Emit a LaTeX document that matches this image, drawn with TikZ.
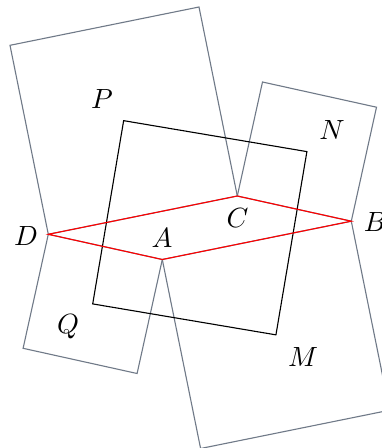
\documentclass[tikz,border=0pt]{standalone}
\usetikzlibrary{calc}
\definecolor{sqgray}{RGB}{112,122,136}
\begin{document}
\begin{tikzpicture}[x=0.36pt,y=-0.36pt,
  sq/.style={draw=sqgray,line width=0.4pt},
  inner/.style={draw=black,line width=0.4pt},
  rh/.style={draw=red,line width=0.4pt},
  lab/.style={inner sep=0pt}]
\useasboundingbox (0,0) rectangle (382,448);
\clip (0,0) rectangle (382,448);
% rhombus vertices
\coordinate (D) at (48.3,234.3);
\coordinate (C) at (237.3,196);
\coordinate (A) at (162.3,259.5);
\coordinate (B) at ($(A)+(C)-(D)$);
% outer square corners (rotate neighbour by 90 degrees)
\coordinate (P1) at ($(C)!1!-90:(D)$);
\coordinate (P2) at ($(D)!1!90:(C)$);
\coordinate (N1) at ($(B)!1!-90:(C)$);
\coordinate (N2) at ($(C)!1!90:(B)$);
\coordinate (M1) at ($(A)!1!-90:(B)$);
\coordinate (M2) at ($(B)!1!90:(A)$);
\coordinate (Q1) at ($(D)!1!-90:(A)$);
\coordinate (Q2) at ($(A)!1!90:(D)$);
% centres
\coordinate (Pc) at ($(D)!0.5!(P1)$);
\coordinate (Nc) at ($(C)!0.5!(N1)$);
\coordinate (Mc) at ($(B)!0.5!(M1)$);
\coordinate (Qc) at ($(A)!0.5!(Q1)$);
\draw[sq] (D) -- (C) -- (P1) -- (P2) -- cycle;
\draw[sq] (C) -- (B) -- (N1) -- (N2) -- cycle;
\draw[sq] (B) -- (A) -- (M1) -- (M2) -- cycle;
\draw[sq] (A) -- (D) -- (Q1) -- (Q2) -- cycle;
\draw[inner] (Pc) -- (Nc) -- (Mc) -- (Qc) -- cycle;
\draw[rh] (D) -- (C) -- (B) -- (A) -- cycle;
% labels
\node[lab] (lD) at (26,236) {$D$};
\node[lab] (lB) at (375,222) {$B$};
\node[lab] (lC) at (237.5,218) {$C$};
\node[lab] (lA) at (162,238.5) {$A$};
\node[lab] (lP) at (102,99.5) {$P$};
\node[lab] (lN) at (332,130.5) {$N$};
\node[lab] (lM) at (303,357) {$M$};
\node[lab] (lQ) at (68,327) {$Q$};
\end{tikzpicture}
\end{document}
